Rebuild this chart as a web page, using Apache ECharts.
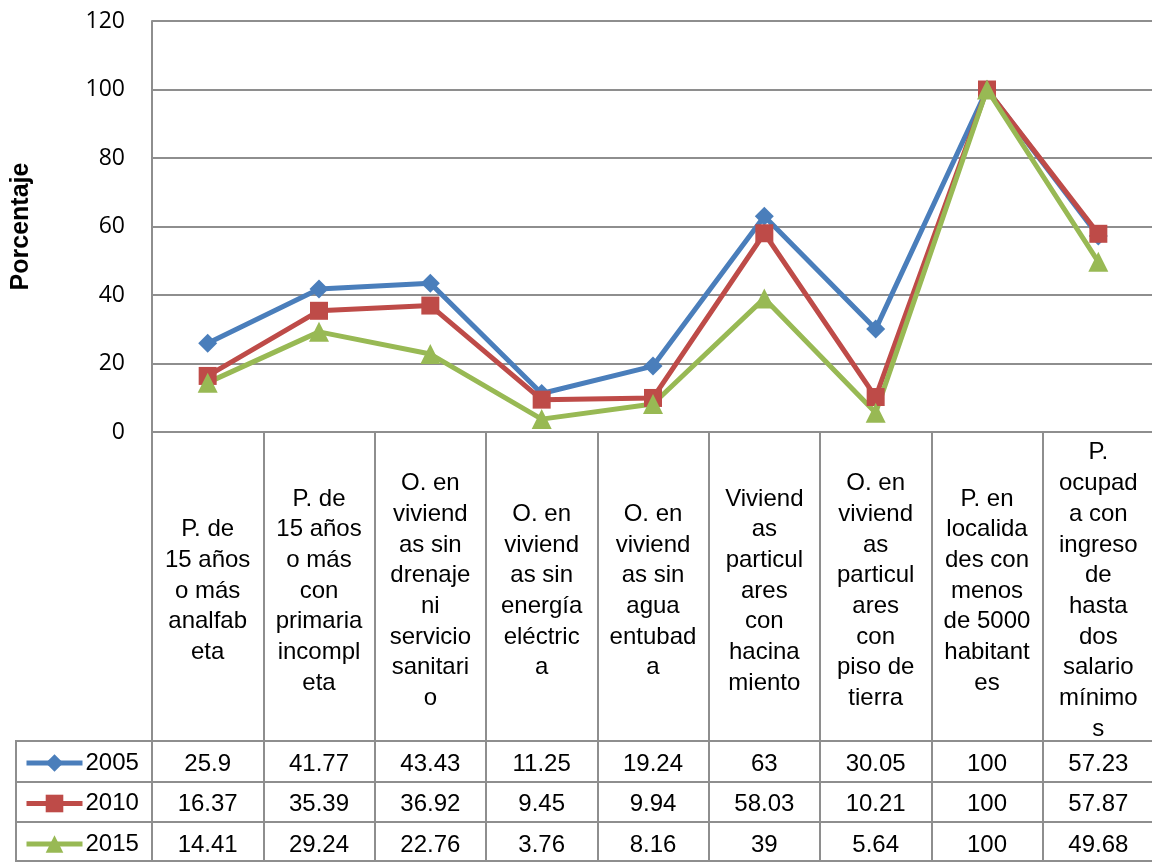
<!DOCTYPE html>
<html>
<head>
<meta charset="utf-8">
<script src="https://cdn.jsdelivr.net/npm/echarts@6/dist/echarts.min.js"></script>
<style>
  html, body { margin: 0; padding: 0; background: #fff; }
  #chart { width: 1152px; height: 862px; }
</style>
</head>
<body>
<div id="chart"></div>
<script>
// categorías (texto ya partido como en la tabla)
const categories = [
  'P. de\n15 años\no más\nanalfab\neta',
  'P. de\n15 años\no más\ncon\nprimaria\nincompl\neta',
  'O. en\nviviend\nas sin\ndrenaje\nni\nservicio\nsanitari\no',
  'O. en\nviviend\nas sin\nenergía\neléctric\na',
  'O. en\nviviend\nas sin\nagua\nentubad\na',
  'Viviend\nas\nparticul\nares\ncon\nhacina\nmiento',
  'O. en\nviviend\nas\nparticul\nares\ncon\npiso de\ntierra',
  'P. en\nlocalida\ndes con\nmenos\nde 5000\nhabitant\nes',
  'P.\nocupad\na con\ningreso\nde\nhasta\ndos\nsalario\nmínimo\ns'
];
const years = ['2005', '2010', '2015'];
const values2005 = [25.9, 41.77, 43.43, 11.25, 19.24, 63, 30.05, 100, 57.23];
const values2010 = [16.37, 35.39, 36.92, 9.45, 9.94, 58.03, 10.21, 100, 57.87];
const values2015 = [14.41, 29.24, 22.76, 3.76, 8.16, 39, 5.64, 100, 49.68];
const yMin = 0, yMax = 120, yStep = 20;

const allValues = [values2005, values2010, values2015];
const colors = ['#4a7ebb', '#be4b48', '#98b954'];
const symbols = ['diamond', 'rect', 'triangle'];
const symbolSizes = [19, 18, 20];
const gridColor = '#8e8e8e';
const txtFont = "'Liberation Sans', Arial, sans-serif";

const plotTop = 21, plotBottom = 432;
const rowY = [762, 802.5, 843]; // centro de cada fila de la tabla

const myChart = echarts.init(document.getElementById('chart'));

// ejes extra: una fila de la tabla por año
const tableAxes = allValues.map((vals, i) => ({
  type: 'category',
  gridIndex: 0,
  position: 'bottom',
  data: vals.map(v => String(v)),
  axisLine: { show: false },
  axisTick: { show: false },
  axisLabel: {
    interval: 0,
    margin: rowY[i] - plotBottom + 2,
    verticalAlign: 'middle',
    color: '#000',
    fontFamily: txtFont,
    fontSize: 24
  }
}));

// una leyenda por fila de la tabla
const legends = years.map((y, i) => ({
  orient: 'vertical',
  left: 24,
  top: rowY[i] - 11,
  padding: 0,
  itemWidth: 56,
  itemHeight: 22,
  itemGap: 4,
  data: [y],
  lineStyle: { width: 5 },
  textStyle: { color: '#000', fontFamily: txtFont, fontSize: 24, lineHeight: 22, padding: [2, 0, 0, -2] }
}));

// lineas de la tabla
const tableLines = [741, 782, 822, 861].map(y => ({
  type: 'line',
  shape: { x1: 15, y1: y, x2: 1152, y2: y },
  style: { stroke: gridColor, lineWidth: 2 }
}));
tableLines.push({
  type: 'line',
  shape: { x1: 16, y1: 741, x2: 16, y2: 862 },
  style: { stroke: gridColor, lineWidth: 2 }
});

const option = {
  animation: false,
  backgroundColor: '#fff',
  grid: { left: 152, top: plotTop, right: -2, height: plotBottom - plotTop, outerBoundsMode: 'none', containLabel: false },
  legend: legends,
  xAxis: [{
    type: 'category',
    data: categories,
    boundaryGap: true,
    axisLine: { lineStyle: { color: gridColor, width: 2 } },
    axisTick: { show: true, length: 430, lineStyle: { color: gridColor, width: 2 } },
    axisLabel: {
      interval: 0,
      margin: 159,
      verticalAlign: 'middle',
      align: 'center',
      lineHeight: 30.7,
      color: '#000',
      fontFamily: txtFont,
      fontSize: 24
    },
    splitLine: { show: false }
  }].concat(tableAxes),
  yAxis: {
    type: 'value',
    min: yMin,
    max: yMax,
    interval: yStep,
    name: 'Porcentaje',
    nameLocation: 'middle',
    nameGap: 118,
    nameTextStyle: { color: '#000', fontFamily: txtFont, fontSize: 25, fontWeight: 'bold' },
    axisLine: { show: true, lineStyle: { color: gridColor, width: 2 } },
    axisTick: { show: false },
    axisLabel: { margin: 27, color: '#000', fontFamily: "'Open Sans', sans-serif", fontSize: 23 },
    splitLine: { lineStyle: { color: gridColor, width: 2 } }
  },
  series: allValues.map((vals, i) => ({
    name: years[i],
    type: 'line',
    data: vals,
    symbol: symbols[i],
    symbolSize: symbolSizes[i],
    itemStyle: { color: colors[i] },
    lineStyle: { color: colors[i], width: 5 }
  })),
  graphic: tableLines
};

myChart.setOption(option);
</script>
</body>
</html>
